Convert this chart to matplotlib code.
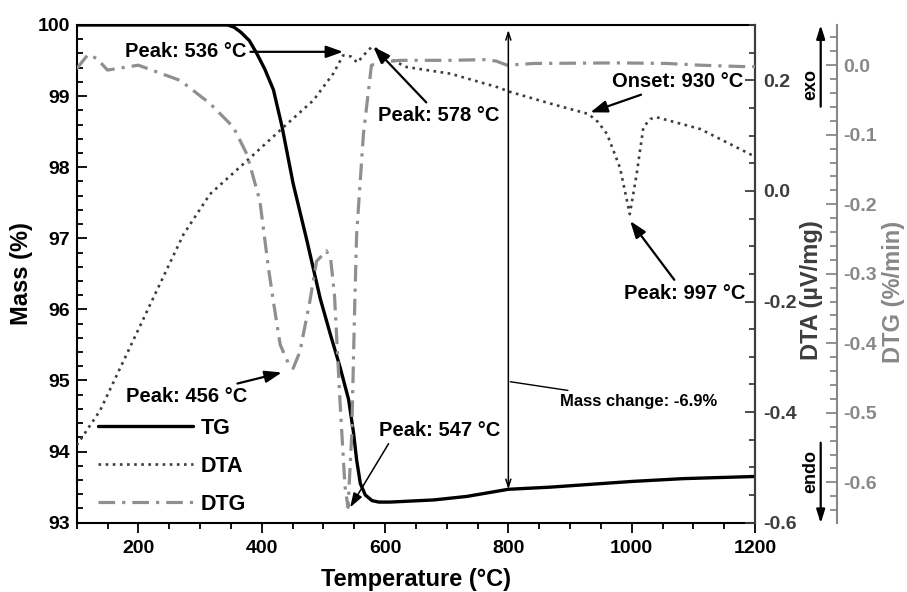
import matplotlib
matplotlib.use("Agg")
import matplotlib.pyplot as plt
from matplotlib.ticker import MultipleLocator

plt.rcParams['font.family'] = ['Liberation Sans', 'DejaVu Sans']
plt.rcParams['font.weight'] = 'bold'
plt.rcParams['axes.labelweight'] = 'bold'

# ---------------- data ----------------
T_tg = [100, 200, 300, 345, 355, 366, 380, 392, 405, 419, 433, 451, 473, 495,
        511, 527, 541, 549, 554, 560, 568, 579, 590, 608, 679, 733, 800, 868,
        1000, 1084, 1200]
m_tg = [100.0, 100.0, 100.0, 100.0, 99.97, 99.9, 99.78, 99.6, 99.38, 99.09,
        98.57, 97.77, 96.98, 96.15, 95.66, 95.19, 94.73, 94.26, 93.88, 93.55,
        93.39, 93.31, 93.29, 93.29, 93.32, 93.37, 93.47, 93.50, 93.58, 93.62,
        93.65]

T_dta = [100, 138, 224, 273, 316, 376, 441, 484, 516, 532, 545, 555, 565,
         578, 590, 600, 620, 635, 706, 781, 803, 868, 930, 945, 960, 981, 997,
         1008, 1019, 1030, 1041, 1111, 1200]
d_dta = [-0.46, -0.397, -0.194, -0.079, -0.006, 0.0545, 0.121, 0.164, 0.212,
         0.245, 0.243, 0.232, 0.245, 0.26, 0.255, 0.245, 0.232, 0.224, 0.212,
         0.188, 0.179, 0.158, 0.139, 0.125, 0.103, 0.042, -0.042, 0.030, 0.115,
         0.13, 0.133, 0.112, 0.062]

T_dtg = [100, 118, 132, 150, 200, 268, 316, 354, 376, 397, 411, 419, 430, 443,
         451, 462, 478, 489, 505, 512, 518, 527, 535, 540, 546, 551, 554, 565,
         578, 600, 625, 706, 760, 780, 798, 841, 976, 1057, 1111, 1181, 1200]
g_dtg = [-0.005, 0.015, 0.01, -0.007, 0.0, -0.022, -0.055, -0.089, -0.128,
         -0.195, -0.292, -0.34, -0.402, -0.428, -0.436, -0.412, -0.34, -0.282,
         -0.267, -0.28, -0.33, -0.484, -0.605, -0.636, -0.532, -0.34, -0.243,
         -0.099, 0.0, 0.005, 0.007, 0.007, 0.008, 0.006, 0.0, 0.0025, 0.0033,
         0.0025, 0.0, -0.002, -0.002]

series_labels = ["TG", "DTA", "DTG"]
mass_ticks = [93, 94, 95, 96, 97, 98, 99, 100]
dta_ticks = [-0.6, -0.4, -0.2, 0.0, 0.2]
dtg_ticks = [-0.6, -0.5, -0.4, -0.3, -0.2, -0.1, 0.0]
x_ticks = [200, 400, 600, 800, 1000, 1200]

# ---------------- colours ----------------
C_TG = "black"
C_DTA = "#3d3d3d"
C_DTG = "#8f8f8f"
C_DTG_AX = "#888888"

W, H = 907, 592
fig = plt.figure(figsize=(W / 100, H / 100), dpi=100)
L, R, B, Tp = 76.7, 755.0, 522.7, 25.0
ax = fig.add_axes([L / W, 1 - B / H, (R - L) / W, (B - Tp) / H])
ax2 = ax.twinx()
ax3 = ax.twinx()


def fx(px):
    return (px - L) / (R - L)


def fy(py):
    return (B - py) / (B - Tp)


# main axis
l_tg, = ax.plot(T_tg, m_tg, color=C_TG, lw=2.4, solid_capstyle='round',
                label=series_labels[0])
ax.set_xlim(100, 1200)
ax.set_ylim(93, 100)
ax.set_yticks(mass_ticks)
ax.yaxis.set_minor_locator(MultipleLocator(0.2))
ax.set_xticks(x_ticks)
ax.xaxis.set_minor_locator(MultipleLocator(50))
ax.tick_params(axis='y', which='both', direction='in', labelsize=14, pad=5, width=1.3)
ax.tick_params(axis='y', which='major', length=7.5)
ax.tick_params(axis='y', which='minor', length=4.5)
ax.tick_params(axis='x', which='both', direction='out', labelsize=14, pad=5, width=1.3)
ax.tick_params(axis='x', which='major', length=7.5)
ax.tick_params(axis='x', which='minor', length=4.5)
ax.tick_params(top=False, right=False)
ax.set_xlabel("Temperature (°C)", fontsize=17, labelpad=8)
ax.set_ylabel("Mass (%)", fontsize=17, labelpad=3)
for s in ax.spines.values():
    s.set_linewidth(1.5)

# DTA axis
l_dta, = ax2.plot(T_dta, d_dta, color=C_DTA, lw=1.9, linestyle=(0, (1, 1.7)),
                  label=series_labels[1])
ax2.set_ylim(-0.6, 0.3)
ax2.set_yticks(dta_ticks)
ax2.set_yticklabels([f"{v:.1f}" for v in dta_ticks])
ax2.yaxis.set_minor_locator(MultipleLocator(0.05))
ax2.tick_params(axis='y', which='both', direction='in', labelsize=14, pad=6,
                colors=C_DTA, width=1.3)
ax2.tick_params(axis='y', which='major', length=7.5)
ax2.tick_params(axis='y', which='minor', length=4.5)
ax2.spines['right'].set_color(C_DTA)
ax2.spines['right'].set_linewidth(1.5)
for k in ['left', 'top', 'bottom']:
    ax2.spines[k].set_visible(False)
ax2.set_ylabel("DTA (µV/mg)", fontsize=17, color=C_DTA)
ax2.yaxis.set_label_coords(fx(800), 0.468)

# DTG axis
l_dtg, = ax3.plot(T_dtg, g_dtg, color=C_DTG, lw=2.3,
                  linestyle=(0, (5.2, 2.2, 1, 2.2)), label=series_labels[2])
ax3.set_ylim(-0.658, 0.0578)
ax3.spines['right'].set_position(('axes', fx(836.7)))
ax3.spines['right'].set_color(C_DTG_AX)
ax3.spines['right'].set_linewidth(1.5)
for k in ['left', 'top', 'bottom']:
    ax3.spines[k].set_visible(False)
ax3.set_yticks(dtg_ticks)
ax3.set_yticklabels([f"{v:.1f}" for v in dtg_ticks])
ax3.yaxis.set_minor_locator(MultipleLocator(0.02))
ax3.tick_params(axis='y', which='both', direction='in', labelsize=14, pad=5,
                colors=C_DTG_AX, width=1.3)
ax3.tick_params(axis='y', which='major', length=8)
ax3.tick_params(axis='y', which='minor', length=5)
ax3.set_ylabel("DTG (%/min)", fontsize=17, color=C_DTG_AX)
ax3.yaxis.set_label_coords(fx(882), 0.463)

# legend
leg = ax3.legend(handles=[l_tg, l_dta, l_dtg], labels=series_labels,
                 loc='upper left', bbox_to_anchor=(fx(98), fy(418)),
                 frameon=False, fontsize=15.5, handlelength=4.4, handletextpad=0.35,
                 labelspacing=0.78, borderpad=0, borderaxespad=0)

# annotations
arrow_big = dict(arrowstyle='-|>,head_length=0.7,head_width=0.25', color='black',
                 lw=1.6, shrinkA=1, shrinkB=0)
fs_ann = 14.5
ax3.annotate("Peak: 536 °C", xy=(532, 0.2515), xytext=(375, 0.2515), xycoords=ax2.transData,
             textcoords=ax2.transData, ha='right', va='center', fontsize=fs_ann,
             arrowprops=arrow_big)
ax3.annotate("Peak: 578 °C", xy=(581, 0.2606), xytext=(589, 0.136), xycoords=ax2.transData,
             textcoords=ax2.transData, ha='left', va='center', fontsize=fs_ann,
             arrowprops=arrow_big)
ax3.annotate("Onset: 930 °C", xy=(933, 0.142), xytext=(968, 0.197), xycoords=ax2.transData,
             textcoords=ax2.transData, ha='left', va='center', fontsize=fs_ann,
             arrowprops=arrow_big)
ax3.annotate("Peak: 997 °C", xy=(997.6, -0.0545), xytext=(987, -0.185), xycoords=ax2.transData,
             textcoords=ax2.transData, ha='left', va='center', fontsize=fs_ann,
             arrowprops=arrow_big)
ax3.annotate("Peak: 456 °C", xy=(432.6, -0.442), xytext=(180, -0.476),
             ha='left', va='center', fontsize=fs_ann, arrowprops=arrow_big)
ax3.annotate("Peak: 547 °C", xy=(543.4, -0.636), xytext=(590, -0.525),
             ha='left', va='center', fontsize=fs_ann,
             arrowprops=dict(arrowstyle='-|>,head_length=0.6,head_width=0.2',
                             color='black', lw=1.1, shrinkA=1, shrinkB=0,
                             relpos=(0.1, 0.0)))

# mass change double arrow
ax3.annotate("", xy=(800, 99.93), xytext=(800, 93.47), xycoords=ax.transData,
             textcoords=ax.transData,
             arrowprops=dict(arrowstyle='<->,head_length=0.55,head_width=0.18',
                             color='black', lw=1.1, shrinkA=0, shrinkB=0))
ax3.annotate("Mass change: -6.9%", xy=(803, 94.983), xytext=(884, 94.71),
             xycoords=ax.transData, textcoords=ax.transData, ha='left', va='center',
             fontsize=11.9,
             arrowprops=dict(arrowstyle='-', color='black', lw=1.0, shrinkA=2, shrinkB=0))

# exo / endo
ax3.annotate("", xy=(fx(820.7), fy(25)), xytext=(fx(820.7), fy(106.7)),
             xycoords='axes fraction', textcoords='axes fraction', annotation_clip=False,
             arrowprops=dict(arrowstyle='-|>,head_length=0.8,head_width=0.25', color='black',
                             lw=1.6, shrinkA=0, shrinkB=0))
ax3.annotate("", xy=(fx(820.7), fy(523.3)), xytext=(fx(820.7), fy(442.7)),
             xycoords='axes fraction', textcoords='axes fraction', annotation_clip=False,
             arrowprops=dict(arrowstyle='-|>,head_length=0.8,head_width=0.25', color='black',
                             lw=1.6, shrinkA=0, shrinkB=0))
ax3.text(fx(810.5), fy(85), "exo", rotation=90, ha='center', va='center', fontsize=13,
         transform=ax3.transAxes, clip_on=False)
ax3.text(fx(810.5), fy(471.5), "endo", rotation=90, ha='center', va='center', fontsize=13,
         transform=ax3.transAxes, clip_on=False)

fig.savefig("out.png", dpi=100)
